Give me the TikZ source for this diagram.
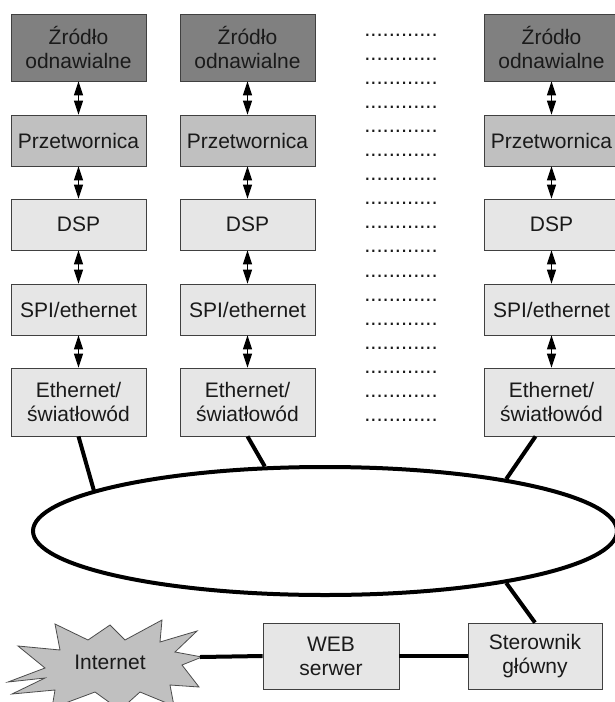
\documentclass[tikz,border=0pt]{standalone}
\usepackage{fontspec}
\setmainfont{Liberation Sans}
\usetikzlibrary{arrows.meta,shapes.geometric,calc}
\definecolor{srcgray}{HTML}{808080}
\definecolor{convgray}{HTML}{C0C0C0}
\definecolor{lightbox}{HTML}{E6E6E6}
\definecolor{txt}{HTML}{1A1A1A}
\tikzset{
  box/.style={draw=black!75, line width=0.8pt, minimum width=135pt, inner sep=0pt,
              align=center, font=\fontsize{21}{24}\selectfont, text=txt},
  srcbox/.style={box, fill=srcgray, minimum height=67pt},
  convbox/.style={box, fill=convgray, minimum height=51pt},
  lightbx/.style={box, fill=lightbox, minimum height=51pt},
  tallbx/.style={box, fill=lightbox, minimum height=68pt},
  dblarrow/.style={line width=1pt, {Triangle[width=9pt,length=14pt]}-{Triangle[width=9pt,length=14pt]}},
  link/.style={line width=4pt},
  dotrow/.style={anchor=base, inner sep=0pt, font=\fontsize{22}{24}\selectfont, text=txt}
}
\begin{document}
\begin{tikzpicture}[x=1pt,y=-1pt]
\clip (0,0) rectangle (615,702);
\useasboundingbox (0,0) rectangle (615,702);
% columns
\foreach \c/\x in {1/78.5,2/247.5,3/551.5}{
  \node[srcbox]  (s\c) at (\x,47.5)  {Źródło\\odnawialne};
  \node[convbox] (p\c) at (\x,140.5) {Przetwornica};
  \node[lightbx] (d\c) at (\x,224.5) {DSP};
  \node[lightbx] (i\c) at (\x,309.5) {SPI/ethernet};
  \node[tallbx]  (e\c) at (\x,402)   {Ethernet/\\światłowód};
  \draw[dblarrow] (s\c.south) -- (p\c.north);
  \draw[dblarrow] (p\c.south) -- (d\c.north);
  \draw[dblarrow] (d\c.south) -- (i\c.north);
  \draw[dblarrow] (i\c.south) -- (e\c.north);
}
% dotted rows
\foreach \k in {0,...,16}{
  \node[dotrow] (dots\k) at (401,{36+24.1*\k}) {............};
}
% network ellipse
\node[draw, ellipse, line width=4pt, minimum width=584pt, minimum height=128pt, inner sep=0pt] (net) at (325,531) {};
\draw[link] (e1.south) -- (net.170.5);
\draw[link] (e2.south) -- (net.133.6);
\draw[link] ($(e3.south)+(-16,0)$) -- (net.16);
% bottom boxes
\node[box, fill=lightbox, minimum width=136pt, minimum height=66pt] (web) at (331,656) {WEB\\serwer};
\node[box, fill=lightbox, minimum width=134pt, minimum height=66pt] (ster) at (535,656) {Sterownik\\główny};
\draw[link] (ster.north) -- (net.344.5);
\draw[link] (web.east) -- (ster.west);
% internet starburst
\draw[draw=black!70, line width=0.8pt, fill=convgray]
  (8,682) -- (45,668) -- (18,646) -- (60,650) -- (55,624) -- (88,640) -- (110,625)
  -- (125,640) -- (162,620) -- (160,642) -- (197,631) -- (175,652) -- (202,657)
  -- (182,665) -- (199,687) -- (170,685) -- (174,706) -- (140,692) -- (120,710)
  -- (95,692) -- (52,708) -- (55,690) -- (12,694) -- (45,678) -- cycle;
\node[font=\fontsize{21}{24}\selectfont, text=txt, inner sep=0pt] (inet) at (110,662) {Internet};
\coordinate (inettip) at (200,657);
\draw[link] (inettip) -- (web.west);
\end{tikzpicture}
\end{document}
